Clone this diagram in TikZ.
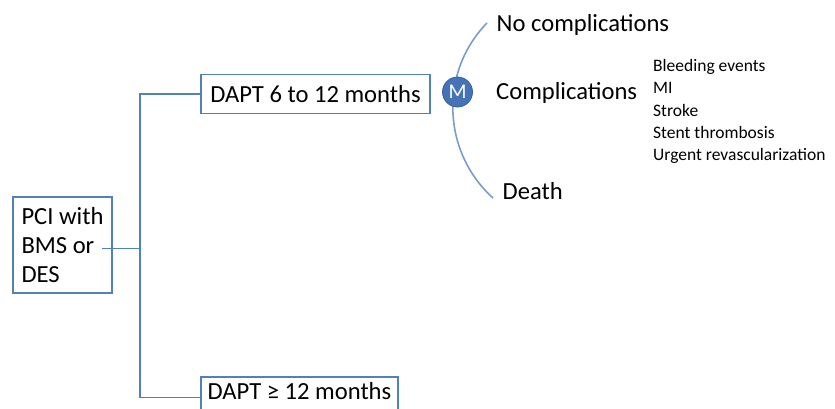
\documentclass[tikz,border=0pt]{standalone}
\usepackage{fontspec}
\setmainfont{Carlito}
\usetikzlibrary{positioning, calc}
\definecolor{boxblue}{HTML}{4F81BD}
\definecolor{arcblue}{HTML}{7B9CCB}
\definecolor{mblue}{HTML}{4672B6}
\definecolor{mborder}{HTML}{35609E}

\begin{document}
\begin{tikzpicture}[x=1pt, y=-1pt,
    box/.style={draw=boxblue, line width=1.6pt, inner sep=0pt, font=\fontsize{24.6}{29}\selectfont},
    outcome/.style={anchor=base west, inner sep=0pt, font=\fontsize{24.6}{29}\selectfont},
    link/.style={draw=boxblue, line width=1.6pt}]
    \useasboundingbox (0,0) rectangle (835,408);

    % treatment strategies
    \node[box, align=left, minimum width=99pt, minimum height=96pt] (pci) at (62.5,245) {PCI with\\BMS or\\DES};
    \node[box, minimum width=229pt, minimum height=39pt] (dapta) at (315.5,94) {DAPT 6 to 12 months};
    \node[box, anchor=north, minimum width=197pt, minimum height=39pt, text depth=10pt] (daptb) at (299.5,376) {DAPT ≥ 12 months};

    \coordinate (pcitail) at (102,248.5);
    \coordinate (trunk) at (140,248.5);
    \draw[link] (pcitail) -- (trunk);
    \draw[link] (dapta.west) -| (trunk) |- ([yshift=-1pt]daptb.west);

    % markov node and outcomes
    \coordinate (arctop) at (487,23);
    \coordinate (arcbot) at (493,198);
    \draw[arcblue, line width=1.6pt] (arctop) .. controls (439,72) and (442,152) .. (arcbot);
    \node[circle, draw=mborder, fill=mblue, line width=0.8pt, minimum size=30pt, inner sep=0pt, text=white, font=\fontsize{21}{24}\selectfont] (markov) at (457.5,92) {M};

    \node[outcome] (nocomp) at (496.5,31) {No complications};
    \node[outcome] (comp) at (496,99.5) {Complications};
    \node[outcome] (death) at (502.5,199) {Death};

    \node[anchor=north west, align=left, inner sep=0pt, font=\fontsize{17.5}{22.4}\selectfont] (events) at (653,59) {Bleeding events\\MI\\Stroke\\Stent thrombosis\\Urgent revascularization};
\end{tikzpicture}
\end{document}
